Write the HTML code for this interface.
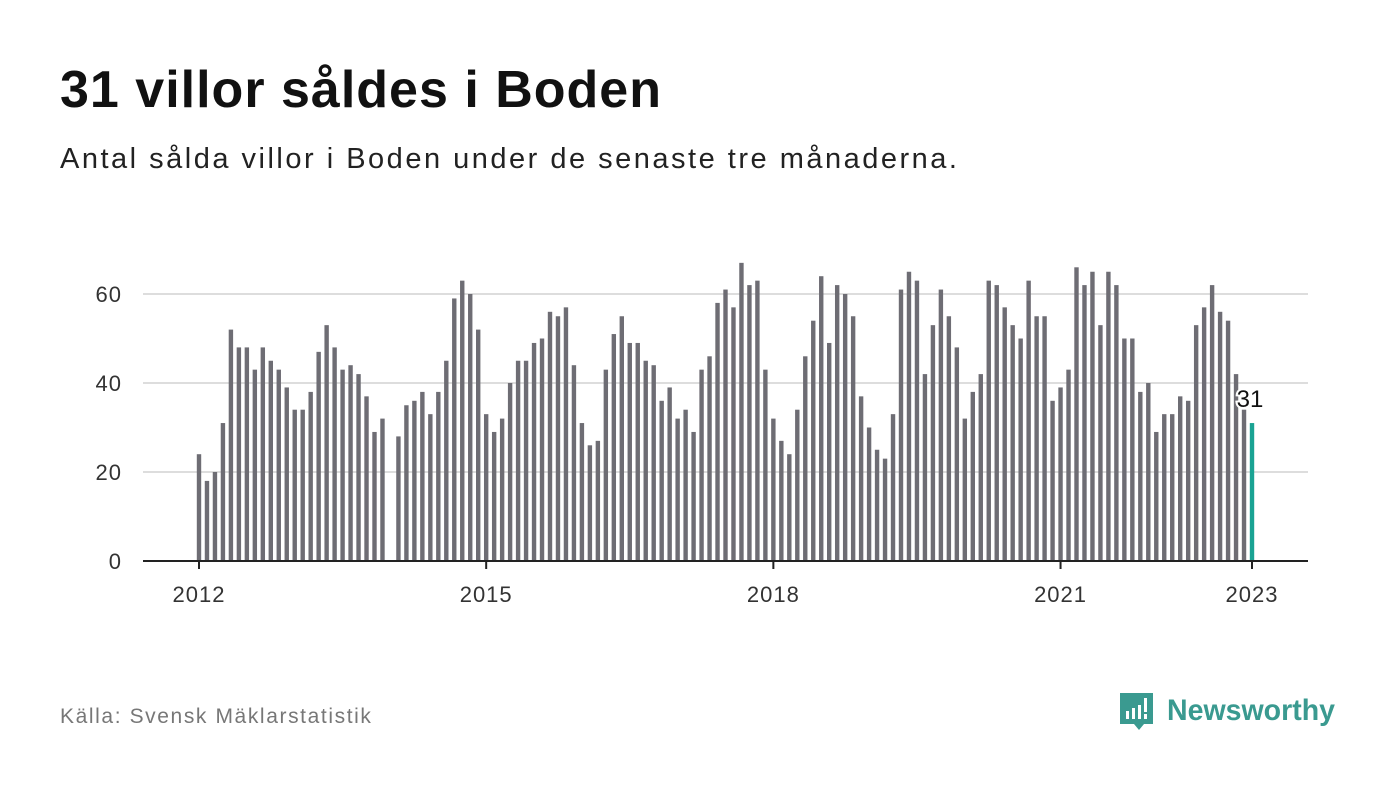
<!DOCTYPE html>
<html><head><meta charset="utf-8"><style>
body{margin:0;width:1400px;height:794px;background:#fff;font-family:"Liberation Sans","DejaVu Sans",sans-serif;position:relative;overflow:hidden}
h1{position:absolute;left:60px;top:60px;margin:0;font-size:52px;font-weight:bold;color:#111;letter-spacing:1px}
.sub{position:absolute;left:60px;top:143px;font-size:29px;color:#222;letter-spacing:2.5px}
.src{position:absolute;left:60px;top:705px;font-size:21px;color:#777;letter-spacing:1.6px}
.logo{position:absolute;left:1118px;top:690px}
</style></head><body>
<h1>31 villor såldes i Boden</h1>
<div class="sub">Antal sålda villor i Boden under de senaste tre månaderna.</div>
<svg id="chart" width="1400" height="794" style="position:absolute;left:0;top:0"></svg>
<div class="src">Källa: Svensk Mäklarstatistik</div>
<div class="logo">
<svg width="240" height="50"><path d="M2 3h33v31H26l-5 6-5-6H2z" fill="#3a9a90"/>
<rect x="8" y="21" width="3" height="8" fill="#fff"/><rect x="14" y="18" width="3" height="11" fill="#fff"/><rect x="20" y="15" width="3" height="14" fill="#fff"/><rect x="26" y="8" width="3" height="14" fill="#fff"/><rect x="26" y="24" width="3" height="5" fill="#fff"/>
<text x="49" y="30" font-size="30" font-weight="bold" fill="#3a9a90" font-family="Liberation Sans, sans-serif" textLength="168" lengthAdjust="spacingAndGlyphs">Newsworthy</text></svg></div>
<script>
const startYear = 2012;
const values = [24,18,20,31,52,48,48,43,48,45,43,39,
34,34,38,47,53,48,43,44,42,37,29,32,
null,28,35,36,38,33,38,45,59,63,60,52,
33,29,32,40,45,45,49,50,56,55,57,44,
31,26,27,43,51,55,49,49,45,44,36,39,
32,34,29,43,46,58,61,57,67,62,63,43,
32,27,24,34,46,54,64,49,62,60,55,37,
30,25,23,33,61,65,63,42,53,61,55,48,
32,38,42,63,62,57,53,50,63,55,55,36,
39,43,66,62,65,53,65,62,50,50,38,40,
29,33,33,37,36,53,57,62,56,54,42,34,
31];
const yTicks = [0,20,40,60];
const xTickLabels = ["2012","2015","2018","2021","2023"];
const xTickMonths = [0,36,72,108,132];
const NS="http://www.w3.org/2000/svg";
const svg=document.getElementById('chart');
const x0=199,x1=1252,y0=561,pxPerUnit=(561-294)/60;
const n=values.length;
function xs(i){return x0+i*(x1-x0)/(n-1);}
function ys(v){return y0-v*pxPerUnit;}
function mk(t,a){const e=document.createElementNS(NS,t);for(const k in a)e.setAttribute(k,a[k]);svg.appendChild(e);return e;}
yTicks.forEach(t=>{
  if(t>0){const g=mk('line',{x1:143,x2:1308,y1:ys(t),y2:ys(t),stroke:'#ddd','stroke-width':2});
  
  }
  const l=mk('text',{x:122,y:ys(t)+8,'text-anchor':'end','font-size':22,fill:'#333','letter-spacing':1});
  
  
  l.textContent=t;
});
values.forEach((v,i)=>{
  if(v==null)return;
  const last=i===n-1;
  const r=mk('rect',{x:xs(i)-2.2,y:ys(v),width:4.4,height:y0-ys(v),fill:last?'#1aa393':'#6e6d74'});
  
  
});
const ax=mk('line',{x1:143,x2:1308,y1:y0,y2:y0,stroke:'#222','stroke-width':2});


xTickMonths.forEach((m,k)=>{
  const tk=mk('line',{x1:xs(m),x2:xs(m),y1:y0,y2:y0+8,stroke:'#222','stroke-width':2});
  
  
  const t=mk('text',{x:xs(m),y:602,'text-anchor':'middle','font-size':22,fill:'#333','letter-spacing':1});
  
  
  t.textContent=xTickLabels[k];
});
const lv=values[n-1];
const lab=mk('text',{x:xs(n-1)-2,y:ys(lv)-16,'text-anchor':'middle','font-size':24,fill:'#111',stroke:'#fff','stroke-width':4,'paint-order':'stroke'});


lab.textContent=lv;
</script>
</body></html>
